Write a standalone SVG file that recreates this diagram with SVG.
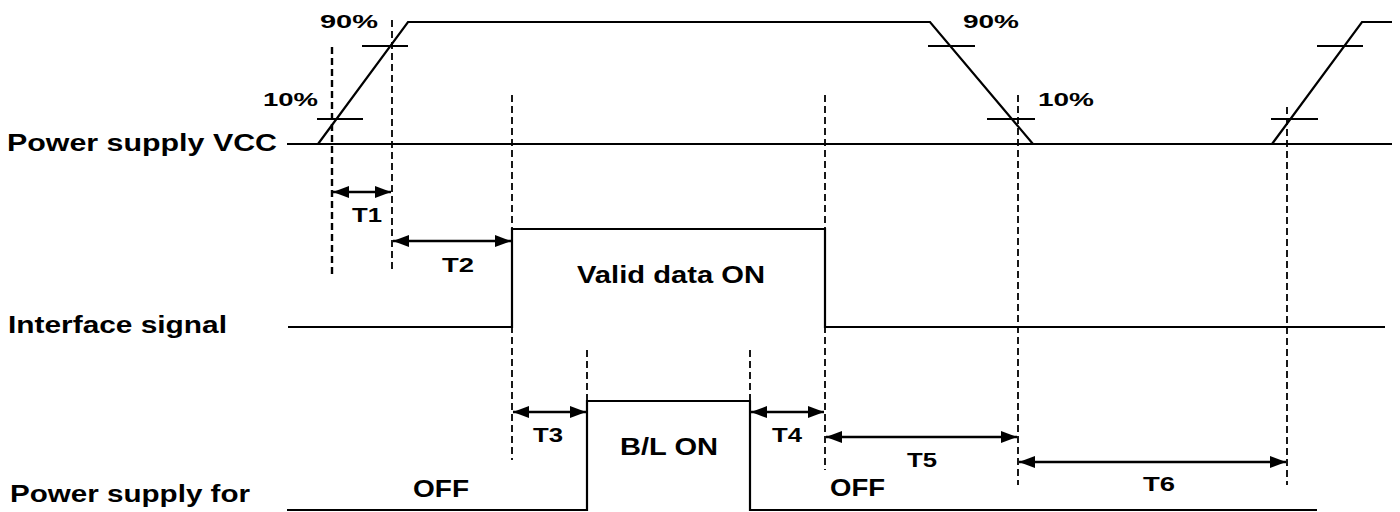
<svg xmlns="http://www.w3.org/2000/svg" width="1400" height="512" viewBox="0 0 1400 512">
<defs>
<style>
.bg{fill:#fff}
.wave{fill:none;stroke:#000;stroke-width:2.2;stroke-linejoin:miter}
.tick{stroke:#000;stroke-width:2.2}
.guide{stroke:#000;stroke-width:1.8;stroke-dasharray:7 4}
.dim{stroke:#000;stroke-width:2.4;marker-start:url(#ah);marker-end:url(#ah)}
text{font-family:"Liberation Sans",Arial,sans-serif;font-weight:bold;fill:#000}
.lbl{font-size:23px}
.t{font-size:21px}
.pct{font-size:19px}
</style>
<marker id="ah" viewBox="0 0 16 12" refX="16" refY="6" markerWidth="16" markerHeight="12" markerUnits="userSpaceOnUse" orient="auto-start-reverse">
<path d="M0,0 L16,6 L0,12 z" fill="#000"/>
</marker>
</defs>
<rect class="bg" x="0" y="0" width="1400" height="512"/>

<g id="labels">
<text class="lbl" x="7" y="151" textLength="270" lengthAdjust="spacingAndGlyphs">Power supply VCC</text>
<text class="lbl" x="8" y="333" textLength="219" lengthAdjust="spacingAndGlyphs">Interface signal</text>
<text class="lbl" x="10" y="502" textLength="240" lengthAdjust="spacingAndGlyphs">Power supply for</text>
</g>

<g id="vcc">
<line class="wave" x1="287" y1="144" x2="1392" y2="144"/>
<polyline class="wave" points="318,144 408,22 930,22 1033,144"/>
<polyline class="wave" points="1272,144 1362,22 1392,22"/>
<line class="tick" x1="317" y1="119" x2="363" y2="119"/>
<line class="tick" x1="362" y1="46" x2="408" y2="46"/>
<line class="tick" x1="928" y1="46" x2="975" y2="46"/>
<line class="tick" x1="987" y1="119" x2="1035" y2="119"/>
<line class="tick" x1="1271" y1="119" x2="1318" y2="119"/>
<line class="tick" x1="1317" y1="46" x2="1363" y2="46"/>
<text class="pct" x="320" y="28" textLength="58" lengthAdjust="spacingAndGlyphs">90%</text>
<text class="pct" x="263" y="106" textLength="55" lengthAdjust="spacingAndGlyphs">10%</text>
<text class="pct" x="963" y="28" textLength="56" lengthAdjust="spacingAndGlyphs">90%</text>
<text class="pct" x="1038" y="106" textLength="56" lengthAdjust="spacingAndGlyphs">10%</text>
</g>

<g id="interface">
<polyline class="wave" points="288,327 512,327 512,229 825,229 825,327 1385,327"/>
<text class="lbl" x="577" y="283" textLength="188" lengthAdjust="spacingAndGlyphs">Valid data ON</text>
</g>

<g id="backlight">
<polyline class="wave" points="287,510 587,510 587,401 750,401 750,510 1317,510"/>
<text class="lbl" x="620" y="455" textLength="98" lengthAdjust="spacingAndGlyphs">B/L ON</text>
<text class="lbl" x="413" y="497" textLength="56" lengthAdjust="spacingAndGlyphs">OFF</text>
<text class="lbl" x="830" y="496" textLength="55" lengthAdjust="spacingAndGlyphs">OFF</text>
</g>

<g id="guides">
<line class="guide" x1="332" y1="47" x2="332" y2="278" style="stroke-width:2.4"/>
<line class="guide" x1="392" y1="20" x2="392" y2="272"/>
<line class="guide" x1="512" y1="95" x2="512" y2="460"/>
<line class="guide" x1="825" y1="95" x2="825" y2="470"/>
<line class="guide" x1="587" y1="350" x2="587" y2="401"/>
<line class="guide" x1="750" y1="350" x2="750" y2="401"/>
<line class="guide" x1="1018" y1="95" x2="1018" y2="485"/>
<line class="guide" x1="1287" y1="107" x2="1287" y2="485"/>
</g>

<g id="connectors">
<line class="dim" x1="333" y1="192" x2="391" y2="192"/>
<line class="dim" x1="393" y1="241" x2="511" y2="241"/>
<line class="dim" x1="513" y1="412" x2="586" y2="412"/>
<line class="dim" x1="751" y1="412" x2="824" y2="412"/>
<line class="dim" x1="826" y1="437" x2="1017" y2="437"/>
<line class="dim" x1="1019" y1="462" x2="1286" y2="462"/>
</g>

<g id="timing-labels">
<text class="t" x="352" y="222" textLength="30" lengthAdjust="spacingAndGlyphs">T1</text>
<text class="t" x="442" y="272" textLength="32" lengthAdjust="spacingAndGlyphs">T2</text>
<text class="t" x="533" y="442" textLength="30" lengthAdjust="spacingAndGlyphs">T3</text>
<text class="t" x="772" y="442" textLength="30" lengthAdjust="spacingAndGlyphs">T4</text>
<text class="t" x="907" y="467" textLength="30" lengthAdjust="spacingAndGlyphs">T5</text>
<text class="t" x="1143" y="491" textLength="32" lengthAdjust="spacingAndGlyphs">T6</text>
</g>
</svg>
